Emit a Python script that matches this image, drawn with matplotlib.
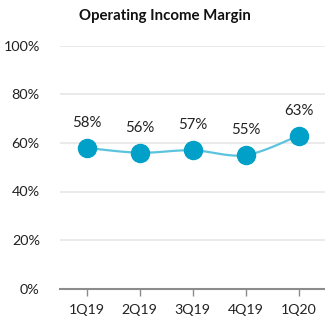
import numpy as np
import matplotlib
matplotlib.use("Agg")
import matplotlib.pyplot as plt
from matplotlib.ticker import FuncFormatter

quarters = ["1Q19", "2Q19", "3Q19", "4Q19", "1Q20"]
margin_pct = [58, 56, 57, 55, 63]
y_ticks = [0, 20, 40, 60, 80, 100]

plt.rcParams["font.family"] = ["Lato", "DejaVu Sans"]

LINE_COLOR = "#5CC3DE"
MARKER_COLOR = "#00A0C8"
TEXT_COLOR = "#222222"


def smooth_path(xs, ys, steps=30):
    """Catmull-Rom style smoothing, similar to a spreadsheet 'smoothed line'."""
    pts = np.column_stack([xs, ys]).astype(float)
    ext = np.vstack([pts[0], pts, pts[-1]])
    out = []
    for i in range(1, len(ext) - 2):
        p0, p1, p2, p3 = ext[i - 1], ext[i], ext[i + 1], ext[i + 2]
        c1 = p1 + (p2 - p0) / 6.0
        c2 = p2 - (p3 - p1) / 6.0
        t = np.linspace(0, 1, steps)[:, None]
        seg = ((1 - t) ** 3) * p1 + 3 * ((1 - t) ** 2) * t * c1 + 3 * (1 - t) * t ** 2 * c2 + t ** 3 * p2
        out.append(seg if i == 1 else seg[1:])
    res = np.vstack(out)
    return res[:, 0], res[:, 1]


fig = plt.figure(figsize=(3.25, 3.27), dpi=100)
ax = fig.add_axes([60 / 325, 38.5 / 327, 265 / 325, 242.5 / 327])

x = np.arange(len(quarters))
sx, sy = smooth_path(x, margin_pct)
ax.plot(sx, sy, color=LINE_COLOR, lw=1.6, zorder=2, solid_capstyle="round")
ax.plot(x, margin_pct, "o", ms=13, color=MARKER_COLOR, mec=MARKER_COLOR, zorder=3)

for xi, v in zip(x, margin_pct):
    ax.annotate(f"{v}%", (xi, v), xytext=(0, 13), textcoords="offset points",
                ha="center", va="bottom", fontsize=10.8, color=TEXT_COLOR)

ax.set_xlim(-0.5, len(quarters) - 0.5)
ax.set_ylim(0, 100)
ax.set_yticks(y_ticks)
ax.yaxis.set_major_formatter(FuncFormatter(lambda v, _: f"{v:.0f}%"))
ax.set_xticks(x)
ax.set_xticklabels(quarters)

ax.grid(axis="y", color="#E6E6E6", lw=1.2, zorder=0)
ax.set_axisbelow(True)
for side in ["top", "right", "left"]:
    ax.spines[side].set_visible(False)
ax.spines["bottom"].set_color("#8C8C8C")
ax.spines["bottom"].set_linewidth(1.5)

ax.tick_params(axis="y", length=0, pad=14.5, labelsize=10.4, labelcolor=TEXT_COLOR)
ax.tick_params(axis="x", length=5, width=1, color="#8C8C8C", pad=6,
               labelsize=10.2, labelcolor=TEXT_COLOR)

fig.text(164.5 / 325, 1 - 16 / 327, "Operating Income Margin", ha="center", va="center",
         fontsize=10.8, fontweight="bold", color="#111111")

fig.savefig("out.png", dpi=100, facecolor="white")
